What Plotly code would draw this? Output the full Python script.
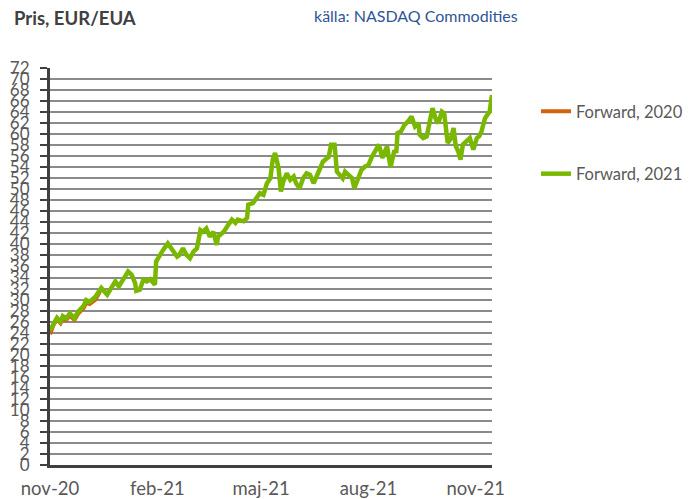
import plotly.graph_objects as go

# ---- data ----
dates_2021 = [
    "2020-11-01", "2020-11-04", "2020-11-07", "2020-11-10", "2020-11-12", "2020-11-15",
    "2020-11-18", "2020-11-22", "2020-11-25", "2020-11-30", "2020-12-02", "2020-12-05",
    "2020-12-10", "2020-12-12", "2020-12-15", "2020-12-20", "2020-12-24", "2020-12-27",
    "2020-12-30", "2021-01-03", "2021-01-07", "2021-01-10", "2021-01-13", "2021-01-14",
    "2021-01-17", "2021-01-20", "2021-01-23", "2021-01-26", "2021-01-29", "2021-01-30",
    "2021-01-31", "2021-02-03", "2021-02-06", "2021-02-10", "2021-02-13", "2021-02-18",
    "2021-02-20", "2021-02-23", "2021-02-26", "2021-03-01", "2021-03-04", "2021-03-07",
    "2021-03-10", "2021-03-12", "2021-03-15", "2021-03-18", "2021-03-21", "2021-03-24",
    "2021-03-25", "2021-03-30", "2021-04-03", "2021-04-06", "2021-04-09", "2021-04-11",
    "2021-04-16", "2021-04-19", "2021-04-20", "2021-04-24", "2021-04-27", "2021-04-30",
    "2021-05-03", "2021-05-06", "2021-05-09", "2021-05-11", "2021-05-13", "2021-05-16",
    "2021-05-18", "2021-05-20", "2021-05-23", "2021-05-26", "2021-05-29", "2021-05-31",
    "2021-06-03", "2021-06-06", "2021-06-09", "2021-06-12", "2021-06-15", "2021-06-18",
    "2021-06-20", "2021-06-23", "2021-06-28", "2021-06-30", "2021-07-03", "2021-07-05",
    "2021-07-08", "2021-07-10", "2021-07-12", "2021-07-15", "2021-07-18", "2021-07-20",
    "2021-07-23", "2021-07-26", "2021-07-29", "2021-08-01", "2021-08-04", "2021-08-07",
    "2021-08-10", "2021-08-13", "2021-08-17", "2021-08-20", "2021-08-23", "2021-08-25",
    "2021-08-26", "2021-08-29", "2021-09-01", "2021-09-04", "2021-09-07", "2021-09-10",
    "2021-09-13", "2021-09-14", "2021-09-17", "2021-09-20", "2021-09-23", "2021-09-25",
    "2021-09-28", "2021-09-30", "2021-10-03", "2021-10-05", "2021-10-08", "2021-10-11",
    "2021-10-13", "2021-10-15", "2021-10-17", "2021-10-19", "2021-10-21", "2021-10-24",
    "2021-10-27", "2021-10-30", "2021-11-02", "2021-11-04", "2021-11-06", "2021-11-09",
    "2021-11-11", "2021-11-13", "2021-11-15",
]
values_2021 = [
    24.4, 25.7, 26.7, 26.0, 27.0, 26.6,
    27.5, 26.6, 27.8, 28.9, 29.9, 29.6,
    30.5, 31.2, 32.1, 30.9, 32.4, 33.3,
    32.4, 33.6, 35.1, 34.5, 33.0, 31.6,
    31.8, 33.6, 33.3, 33.7, 33.0, 32.7,
    36.9, 38.1, 39.0, 40.2, 39.3, 37.8,
    38.1, 39.3, 38.1, 37.5, 38.7, 39.3,
    42.6, 42.3, 42.9, 41.4, 42.3, 39.9,
    41.4, 42.3, 43.6, 44.5, 43.9, 44.5,
    44.2, 44.8, 47.2, 47.5, 48.4, 49.3,
    49.0, 51.1, 52.0, 55.4, 56.6, 53.8,
    49.6, 51.4, 52.9, 51.7, 52.3, 51.1,
    50.2, 52.0, 52.9, 52.6, 51.1, 52.3,
    53.5, 55.0, 55.9, 58.1, 58.1, 53.2,
    52.6, 52.0, 53.2, 52.6, 52.0, 50.2,
    52.0, 53.5, 54.1, 54.4, 55.9, 56.9,
    58.1, 55.7, 57.8, 54.0, 56.8, 56.9,
    60.2, 60.5, 61.7, 62.3, 63.2, 61.4,
    62.0, 59.9, 59.3, 59.6, 62.6, 64.7,
    62.6, 62.0, 64.1, 63.8, 58.4, 59.3,
    61.1, 57.8, 56.9, 55.4, 58.1, 58.7,
    59.3, 57.2, 59.3, 59.6, 60.5, 62.9,
    63.5, 64.1, 67.1,
]

dates_2020 = [
    "2020-11-01", "2020-11-04", "2020-11-07", "2020-11-10", "2020-11-12", "2020-11-15",
    "2020-11-18", "2020-11-22", "2020-11-25", "2020-11-30", "2020-12-02", "2020-12-05",
    "2020-12-10", "2020-12-12", "2020-12-14",
]
values_2020 = [
    23.7, 25.4, 26.4, 25.7, 26.6, 26.3,
    27.1, 26.3, 27.4, 28.5, 29.4, 29.2,
    30.0, 30.8, 31.5,
]

tick_dates = ["2020-11-01", "2021-02-01", "2021-05-01", "2021-08-01", "2021-11-01"]
tick_labels = ["nov-20", "feb-21", "maj-21", "aug-21", "nov-21"]
y_ticks = list(range(0, 73, 2))

FONT = "Lato"
TXT = "#595959"

# the page body adds an 8px offset; the figure coordinates below compensate
L, R, T, B = 42, 484, 60, 457
H = 499

fig = go.Figure()
fig.add_trace(go.Scatter(
    x=dates_2020, y=values_2020, mode="lines", name="Forward, 2020",
    line=dict(color="#D2640F", width=4), legendgroup="a",
))
fig.add_trace(go.Scatter(
    x=dates_2021, y=values_2021, mode="lines", name="Forward, 2021",
    line=dict(color="#7AB800", width=4.5), legendgroup="b",
))

fig.update_layout(
    width=700, height=H,
    margin=dict(l=L, r=700 - R, t=T, b=H - B, autoexpand=False),
    paper_bgcolor="white", plot_bgcolor="white",
    font=dict(family=FONT, color=TXT),
    title=dict(text="<b>Pris, EUR/EUA</b>", x=6 / 700, xref="container", xanchor="left",
               y=1 - 11 / H, yref="container", yanchor="middle",
               font=dict(family=FONT, size=18.5, color="#404040")),
    showlegend=True,
    legend=dict(x=528 / 700, xref="container", xanchor="left",
                y=1 - 86 / H, yref="container", yanchor="top",
                font=dict(family=FONT, size=16.5, color=TXT),
                tracegroupgap=38, bgcolor="rgba(0,0,0,0)"),
    annotations=[dict(
        text="källa: NASDAQ Commodities", xref="paper", yref="paper",
        x=(304 - L) / (R - L), y=(B - 8) / (B - T), xanchor="left", yanchor="middle",
        showarrow=False, font=dict(family=FONT, size=16, color="#2F5597"),
    )],
)

fig.update_xaxes(
    type="date", range=["2020-11-01", "2021-11-15"], automargin=False,
    tickmode="array", tickvals=tick_dates, ticktext=tick_labels,
    ticks="", showgrid=False, zeroline=False,
    showline=True, linecolor="#404040", linewidth=3,
    tickfont=dict(family=FONT, size=18.5, color=TXT),
    ticklabelstandoff=5,
)
fig.update_yaxes(
    range=[0, 72], tickmode="array", tickvals=y_ticks, automargin=False,
    ticks="outside", ticklen=7, tickwidth=2, tickcolor="#404040",
    showgrid=True, gridcolor="#8a8a8a", gridwidth=2, zeroline=False,
    showline=True, linecolor="#404040", linewidth=3,
    tickfont=dict(family=FONT, size=17, color=TXT),
    ticklabelstandoff=7,
)

fig.write_html("out.html")
